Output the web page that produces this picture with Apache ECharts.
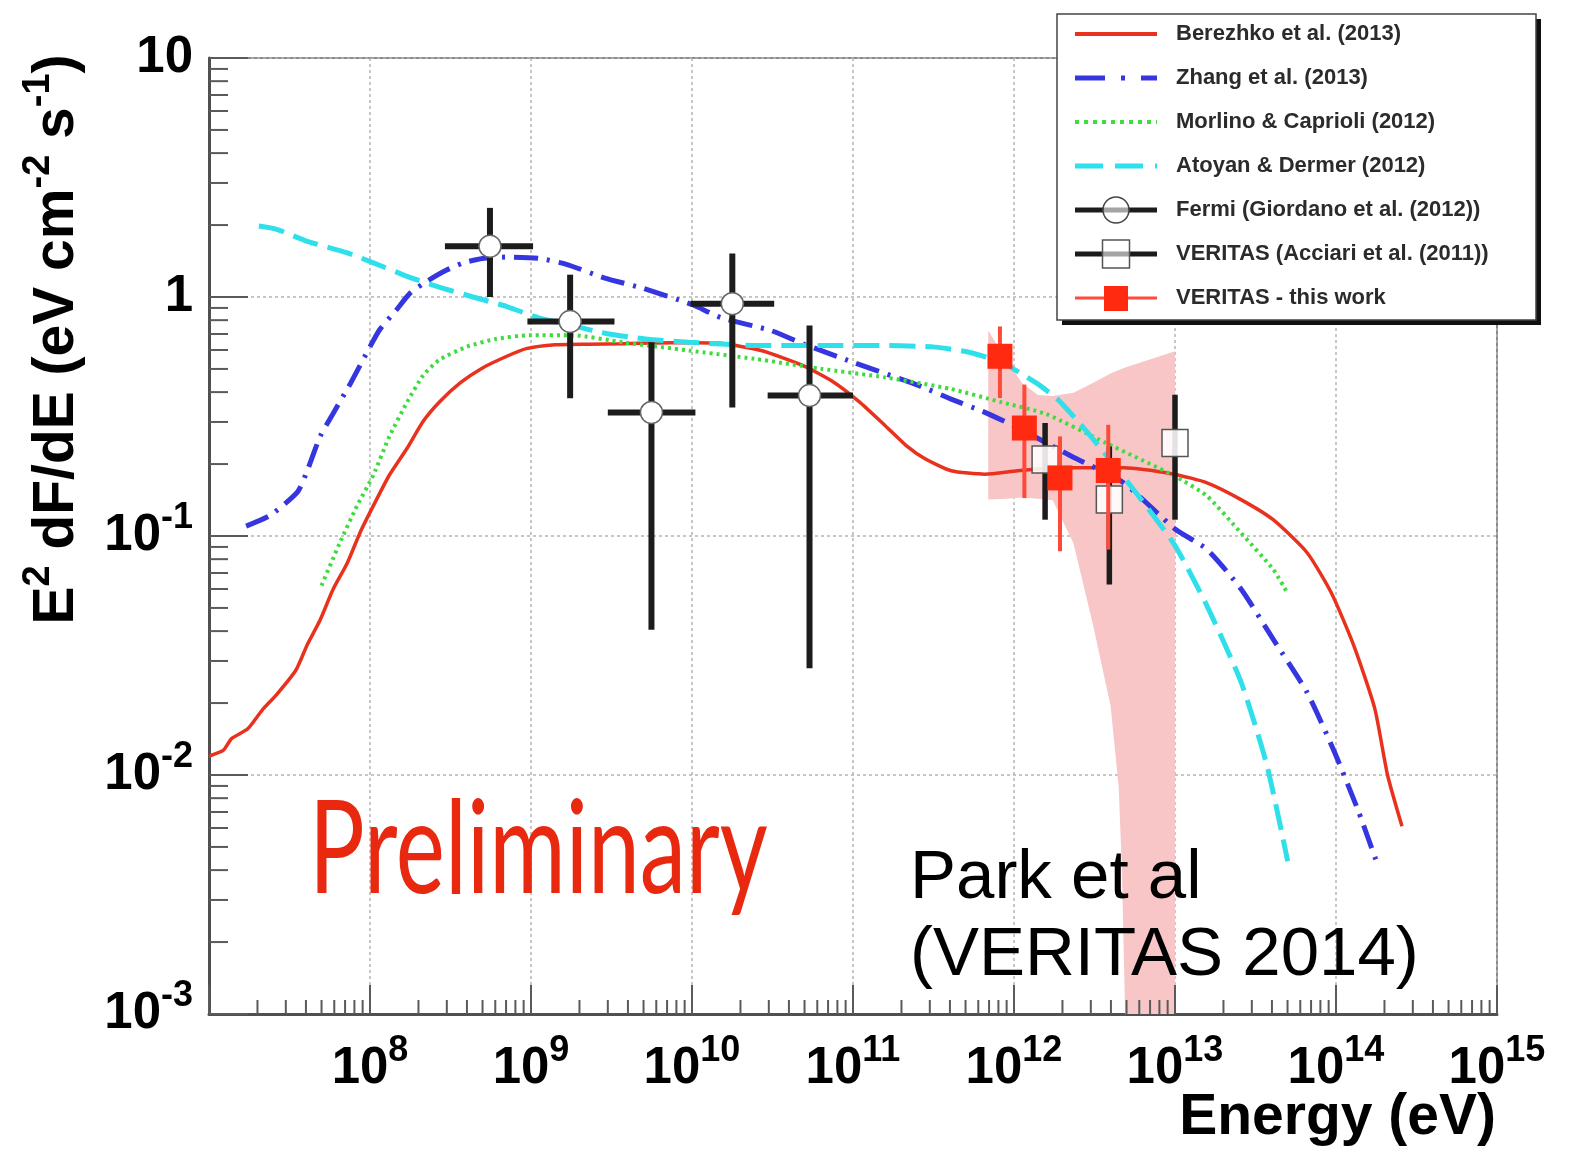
<!DOCTYPE html>
<html>
<head>
<meta charset="utf-8">
<title>Cas A gamma-ray SED</title>
<script src="https://cdn.jsdelivr.net/npm/echarts@6/dist/echarts.min.js"></script>
<style>
  html, body { margin: 0; padding: 0; background: #ffffff; }
  #chart { width: 1578px; height: 1149px; }
</style>
</head>
<body>
<div id="chart"></div>
<script>
// ---- Model curves: energy (eV) and E^2 dF/dE (eV cm^-2 s^-1) ----
const berezhkoE = [1.0e7, 1.23e7, 1.38e7, 1.74e7, 2.14e7, 2.63e7, 3.47e7, 4.07e7, 4.9e7, 5.89e7, 7.24e7, 8.71e7,
  1.05e8, 1.32e8, 1.70e8, 2.14e8, 2.69e8, 3.63e8, 5.0e8, 7.08e8, 9.33e8, 1.41e9, 2.29e9, 3.72e9, 5.89e9, 1.0e10,
  1.51e10, 2.69e10, 4.9e10, 7.59e10, 1.1e11, 1.58e11, 2.14e11, 2.82e11, 4.07e11, 6.6e11, 1.05e12, 1.7e12, 2.29e12,
  4.79e12, 1.0e13, 1.58e13, 2.57e13, 4.07e13, 6.6e13, 9.33e13, 1.29e14, 1.74e14, 2.09e14, 2.57e14];
const berezhkoF = [0.0120, 0.0127, 0.0142, 0.0156, 0.0187, 0.0217, 0.0275, 0.035, 0.0445, 0.0597, 0.0773, 0.104,
  0.134, 0.180, 0.233, 0.302, 0.363, 0.437, 0.505, 0.565, 0.608, 0.631, 0.635, 0.638, 0.642, 0.644,
  0.640, 0.597, 0.516, 0.44, 0.363, 0.29, 0.239, 0.21, 0.1875, 0.1815, 0.1875, 0.192, 0.193,
  0.193, 0.181, 0.167, 0.142, 0.117, 0.0853, 0.058, 0.0348, 0.019, 0.010, 0.0061];

const zhangE = [1.7e7, 2.4e7, 3.55e7, 4.07e7, 4.9e7, 5.89e7, 7.59e7, 1.0e8, 1.15e8, 1.45e8, 1.78e8, 2.24e8, 2.95e8,
  3.8e8, 5.0e8, 7.08e8, 1.12e9, 1.66e9, 2.88e9, 4.9e9, 1.0e10, 1.51e10, 3.09e10, 4.9e10, 1.0e11, 2.57e11, 4.07e11,
  6.6e11, 1.12e12, 2.29e12, 4.79e12, 1.0e13, 1.58e13, 2.57e13, 4.07e13, 6.6e13, 9.77e13, 1.38e14, 1.78e14];
const zhangF = [0.11, 0.122, 0.153, 0.187, 0.261, 0.325, 0.437, 0.619, 0.731, 0.879, 1.04, 1.16, 1.29,
  1.39, 1.45, 1.47, 1.45, 1.37, 1.2, 1.09, 0.93, 0.82, 0.724, 0.637, 0.533, 0.426, 0.374,
  0.329, 0.278, 0.215, 0.167, 0.107, 0.0879, 0.06, 0.037, 0.0222, 0.0125, 0.00703, 0.00436];

const morlinoE = [5.0e7, 6.46e7, 8.32e7, 1.05e8, 1.32e8, 1.7e8, 2.14e8, 2.69e8, 3.98e8, 6.03e8, 9.77e8, 1.82e9,
  3.72e9, 9.55e9, 2.45e10, 6.31e10, 1.58e11, 4.07e11, 8.32e11, 1.58e12, 3.72e12, 1.0e13, 1.58e13, 2.57e13,
  4.07e13, 4.9e13];
const morlinoF = [0.062, 0.0929, 0.134, 0.18, 0.261, 0.363, 0.47, 0.545, 0.619, 0.667, 0.692, 0.692,
  0.646, 0.597, 0.551, 0.501, 0.461, 0.412, 0.363, 0.324, 0.245, 0.178, 0.147, 0.103,
  0.0726, 0.059];

const atoyanE = [2.04e7, 2.63e7, 4.07e7, 7.24e7, 1.05e8, 1.7e8, 2.69e8, 4.37e8, 7.08e8, 1.12e9, 1.82e9, 2.88e9,
  5.13e9, 9.55e9, 2.45e10, 6.31e10, 1.58e11, 3.24e11, 5.25e11, 8.32e11, 1.35e12, 1.86e12, 2.57e12, 3.72e12,
  6.03e12, 1.0e13, 1.58e13, 2.57e13, 3.72e13, 5.01e13];
const atoyanF = [1.98, 1.92, 1.71, 1.53, 1.39, 1.22, 1.1, 1.0, 0.912, 0.817, 0.759, 0.705,
  0.667, 0.647, 0.627, 0.627, 0.627, 0.617, 0.587, 0.533, 0.44, 0.374, 0.295, 0.219,
  0.145, 0.0912, 0.051, 0.0245, 0.011, 0.00436];

// ---- Fermi-LAT points (Giordano et al. 2012) ----
const fermiE   = [5.56e8, 1.75e9, 5.6e9, 1.78e10, 5.37e10];
const fermiF   = [1.63, 0.79, 0.329, 0.938, 0.387];
const fermiElo = [2.92e8, 9.5e8, 3.0e9, 9.8e9, 2.95e10];
const fermiEhi = [1.03e9, 3.3e9, 1.05e10, 3.24e10, 1.0e11];
const fermiFlo = [1.0, 0.377, 0.0405, 0.345, 0.028];
const fermiFhi = [2.36, 1.24, 0.647, 1.52, 0.76];

// ---- VERITAS (Acciari et al. 2011) ----
const acciariE   = [1.56e12, 3.91e12, 1.0e13];
const acciariF   = [0.209, 0.142, 0.245];
const acciariFlo = [0.117, 0.0626, 0.117];
const acciariFhi = [0.297, 0.237, 0.39];

// ---- VERITAS, this work ----
const vtsE   = [8.18e11, 1.16e12, 1.93e12, 3.85e12];
const vtsF   = [0.565, 0.283, 0.175, 0.188];
const vtsFlo = [0.378, 0.144, 0.0863, 0.0877];
const vtsFhi = [0.753, 0.43, 0.261, 0.292];

// ---- VERITAS spectral-fit confidence band ----
const bandE  = [6.92e11, 8.91e11, 1.12e12, 1.41e12, 1.74e12, 2.34e12, 3.09e12, 3.98e12, 4.47e12, 4.68e12, 4.9e12, 1.0e13];
const bandHi = [0.724, 0.55, 0.437, 0.389, 0.385, 0.398, 0.437, 0.479, 0.495, 0.501, 0.507, 0.593];
const bandLo = [0.142, 0.143, 0.145, 0.143, 0.141, 0.0933, 0.0427, 0.0195, 0.0089, 0.004, 0.001, 0.001];

// ---- Axes ----
const xDecades = [7, 8, 9, 10, 11, 12, 13, 14, 15];   // exponents of 10, eV
const yDecades = [-3, -2, -1, 0, 1];                   // exponents of 10
const xLabelExps = [8, 9, 10, 11, 12, 13, 14, 15];     // labelled decades on the energy axis

const seriesNames = [
  'Berezhko et al. (2013)',
  'Zhang et al. (2013)',
  'Morlino & Caprioli (2012)',
  'Atoyan & Dermer (2012)',
  'Fermi (Giordano et al. (2012))',
  'VERITAS (Acciari et al. (2011))',
  'VERITAS - this work'
];

const C = {
  red: '#e8321e', blue: '#3636e0', green: '#3fdc3f', cyan: '#2fe0ea',
  black: '#1c1c1c', vts: '#ff2a10', vtsBar: '#ff4a3a', band: '#f8c6c6'
};

const pairs = (xs, ys) => xs.map((x, i) => [x, ys[i]]);

// log-decade tick marks (major at 10^n, minor at k*10^n)
const tickData = [];
xDecades.forEach((n, i) => {
  tickData.push([Math.pow(10, n), 1e-3, 0, 29]);
  if (i < xDecades.length - 1) for (let k = 2; k <= 9; k++) tickData.push([k * Math.pow(10, n), 1e-3, 0, 14]);
});
yDecades.forEach((n, i) => {
  tickData.push([1e7, Math.pow(10, n), 1, 39]);
  if (i < yDecades.length - 1) for (let k = 2; k <= 9; k++) tickData.push([1e7, k * Math.pow(10, n), 1, 19]);
});

const labelFont = 'Liberation Sans, Arial, Helvetica, sans-serif';
const tickRich = {
  b: { fontSize: 51, fontWeight: 'bold', fontFamily: labelFont, color: '#000', lineHeight: 72, verticalAlign: 'middle' },
  s: { fontSize: 36, fontWeight: 'bold', fontFamily: labelFont, color: '#000', lineHeight: 36, verticalAlign: 'top' }
};
const expOf = v => Math.round(Math.log10(v));

const chart = echarts.init(document.getElementById('chart'), null, { renderer: 'canvas' });

const lineSeries = (name, xs, ys, color, width, dash, z) => ({
  name, type: 'line', data: pairs(xs, ys), showSymbol: false, smooth: 0.2, z,
  lineStyle: { color, width, type: dash, cap: 'butt' }, silent: true
});

// legend sample glyphs
const legendX0 = 1075, legendX1 = 1157, legendMid = 1116, legendTextX = 1176;
const rowY = i => 34 + i * 44;
const legendEls = [
  { type: 'rect', shape: { x: 1062, y: 19, width: 479, height: 306 }, style: { fill: '#111' }, z: 100 },
  { type: 'rect', shape: { x: 1057, y: 14, width: 479, height: 306 }, style: { fill: '#fff', stroke: '#444', lineWidth: 1.5 }, z: 101 },
  { type: 'line', shape: { x1: legendX0, y1: rowY(0), x2: legendX1, y2: rowY(0) }, style: { stroke: C.red, lineWidth: 4 }, z: 102 },
  { type: 'line', shape: { x1: legendX0, y1: rowY(1), x2: legendX1, y2: rowY(1) }, style: { stroke: C.blue, lineWidth: 5, lineDash: [30, 16, 4, 16] }, z: 102 },
  { type: 'line', shape: { x1: legendX0, y1: rowY(2), x2: legendX1, y2: rowY(2) }, style: { stroke: C.green, lineWidth: 4, lineDash: [4, 5] }, z: 102 },
  { type: 'line', shape: { x1: legendX0, y1: rowY(3), x2: legendX1, y2: rowY(3) }, style: { stroke: C.cyan, lineWidth: 5, lineDash: [28, 12] }, z: 102 },
  { type: 'line', shape: { x1: legendX0, y1: rowY(4), x2: legendX1, y2: rowY(4) }, style: { stroke: C.black, lineWidth: 5 }, z: 102 },
  { type: 'circle', shape: { cx: legendMid, cy: rowY(4), r: 13 }, style: { fill: 'rgba(255,255,255,0.6)', stroke: '#444', lineWidth: 1.5 }, z: 103 },
  { type: 'line', shape: { x1: legendX0, y1: rowY(5), x2: legendX1, y2: rowY(5) }, style: { stroke: C.black, lineWidth: 5 }, z: 102 },
  { type: 'rect', shape: { x: legendMid - 13.5, y: rowY(5) - 14, width: 27, height: 28 }, style: { fill: 'rgba(255,255,255,0.6)', stroke: '#555', lineWidth: 1.5 }, z: 103 },
  { type: 'line', shape: { x1: legendX0, y1: rowY(6), x2: legendX1, y2: rowY(6) }, style: { stroke: C.vtsBar, lineWidth: 3 }, z: 102 },
  { type: 'rect', shape: { x: legendMid - 12, y: rowY(6) - 12, width: 24, height: 25 }, style: { fill: C.vts }, z: 103 }
];
seriesNames.forEach((name, i) => {
  legendEls.push({
    type: 'text', x: legendTextX, y: rowY(i), z: 104,
    style: { text: name, fontSize: 22, fontWeight: 'bold', fontFamily: labelFont, fill: '#2b2b2b', align: 'left', verticalAlign: 'middle' }
  });
});

const option = {
  animation: false,
  backgroundColor: '#ffffff',
  grid: { left: 209, top: 58, width: 1288, height: 956, show: true, borderColor: '#8a8a8a', borderWidth: 2, backgroundColor: 'transparent' },
  xAxis: {
    type: 'log', logBase: 10, min: 1e7, max: 1e15, interval: 1, splitNumber: 8,
    axisLine: { show: true, lineStyle: { color: '#505050', width: 3 } },
    axisTick: { show: false },
    splitLine: { show: true, lineStyle: { color: '#b4b4b4', width: 1.5, type: [3, 3] } },
    axisLabel: {
      margin: 19, rich: tickRich,
      formatter: v => { const e = expOf(v); return xLabelExps.includes(e) ? '{b|10}{s|' + e + '}' : ''; }
    }
  },
  yAxis: {
    type: 'log', logBase: 10, min: 1e-3, max: 10, interval: 1, splitNumber: 4,
    axisLine: { show: true, lineStyle: { color: '#505050', width: 3 } },
    axisTick: { show: false },
    splitLine: { show: true, lineStyle: { color: '#b4b4b4', width: 1.5, type: [3, 3] } },
    axisLabel: {
      margin: 16, rich: tickRich,
      formatter: v => { const e = expOf(v); if (e === 1) return '{b|10}'; if (e === 0) return '{b|1}'; return '{b|10}{s|' + e + '}'; }
    }
  },
  graphic: {
    elements: [
      {
        type: 'text', x: 57.5, y: 339.5, rotation: Math.PI / 2,
        style: {
          text: '{b|E}{s|2}{b| dF/dE (eV cm}{s|-2}{b| s}{s|-1}{b|)}', align: 'center', verticalAlign: 'middle',
          rich: {
            b: { fontSize: 57, fontWeight: 'bold', fontFamily: labelFont, fill: '#000', lineHeight: 76, verticalAlign: 'middle' },
            s: { fontSize: 38, fontWeight: 'bold', fontFamily: labelFont, fill: '#000', lineHeight: 38, verticalAlign: 'top' }
          }
        }
      },
      {
        type: 'text', x: 1496, y: 1118,
        style: { text: 'Energy (eV)', fontSize: 57, fontWeight: 'bold', fontFamily: labelFont, fill: '#000', align: 'right', verticalAlign: 'middle' }
      },
      {
        type: 'text', x: 309, y: 851, scaleX: 0.715, z: 50,
        style: { text: 'Preliminary', fontSize: 130, fontFamily: 'Lato, sans-serif', fill: '#e8280f', align: 'left', verticalAlign: 'middle' }
      },
      {
        type: 'text', x: 910, y: 879, z: 50,
        style: { text: 'Park et al', fontSize: 69, fontFamily: labelFont, fill: '#000', align: 'left', verticalAlign: 'middle' }
      },
      {
        type: 'text', x: 910, y: 956, z: 50,
        style: { text: '(VERITAS 2014)', fontSize: 69, fontFamily: labelFont, fill: '#000', align: 'left', verticalAlign: 'middle' }
      }
    ].concat(legendEls)
  },
  series: [
    {
      name: 'VERITAS band', type: 'custom', silent: true, z: 1,
      data: bandE.map((e, i) => [e, bandHi[i], bandLo[i]]),
      encode: { x: 0, y: 1 },
      renderItem: (params, api) => {
        if (params.dataIndex !== 0) return null;
        const cs = params.coordSys;
        const pts = [];
        for (let i = 0; i < bandE.length; i++) pts.push(api.coord([bandE[i], bandHi[i]]));
        for (let i = bandE.length - 1; i >= 0; i--) pts.push(api.coord([bandE[i], bandLo[i]]));
        return {
          type: 'polygon', shape: { points: pts }, style: { fill: C.band },
          clipPath: { type: 'rect', shape: { x: cs.x, y: cs.y, width: cs.width, height: cs.height } }
        };
      }
    },
    lineSeries(seriesNames[0], berezhkoE, berezhkoF, C.red, 3.5, 'solid', 3),
    lineSeries(seriesNames[1], zhangE, zhangF, C.blue, 5, [24, 9, 3, 9], 3),
    lineSeries(seriesNames[2], morlinoE, morlinoF, C.green, 4, [3, 4], 3),
    lineSeries(seriesNames[3], atoyanE, atoyanF, C.cyan, 5, [26, 10], 3),
    {
      name: seriesNames[4], type: 'custom', silent: true, z: 4,
      data: fermiE.map((e, i) => [e, fermiF[i], fermiElo[i], fermiEhi[i], fermiFlo[i], fermiFhi[i]]),
      encode: { x: 0, y: 1 },
      renderItem: (params, api) => {
        const x = api.value(0), y = api.value(1);
        const c = api.coord([x, y]);
        const l = api.coord([api.value(2), y]), r = api.coord([api.value(3), y]);
        const lo = api.coord([x, api.value(4)]), hi = api.coord([x, api.value(5)]);
        return {
          type: 'group', children: [
            { type: 'line', shape: { x1: l[0], y1: c[1], x2: r[0], y2: c[1] }, style: { stroke: C.black, lineWidth: 6 } },
            { type: 'line', shape: { x1: c[0], y1: hi[1], x2: c[0], y2: lo[1] }, style: { stroke: C.black, lineWidth: 6 } },
            { type: 'circle', shape: { cx: c[0], cy: c[1], r: 11 }, style: { fill: '#fff', stroke: '#666', lineWidth: 1.5 } }
          ]
        };
      }
    },
    {
      name: seriesNames[5], type: 'custom', silent: true, z: 5,
      data: acciariE.map((e, i) => [e, acciariF[i], acciariFlo[i], acciariFhi[i]]),
      encode: { x: 0, y: 1 },
      renderItem: (params, api) => {
        const x = api.value(0), y = api.value(1);
        const c = api.coord([x, y]);
        const lo = api.coord([x, api.value(2)]), hi = api.coord([x, api.value(3)]);
        return {
          type: 'group', children: [
            { type: 'line', shape: { x1: c[0], y1: hi[1], x2: c[0], y2: lo[1] }, style: { stroke: C.black, lineWidth: 5.5 } },
            { type: 'rect', shape: { x: c[0] - 13, y: c[1] - 13.5, width: 26, height: 27 }, style: { fill: 'rgba(255,255,255,0.88)', stroke: '#555', lineWidth: 1.5 } }
          ]
        };
      }
    },
    {
      name: seriesNames[6], type: 'custom', silent: true, z: 6,
      data: vtsE.map((e, i) => [e, vtsF[i], vtsFlo[i], vtsFhi[i]]),
      encode: { x: 0, y: 1 },
      renderItem: (params, api) => {
        const x = api.value(0), y = api.value(1);
        const c = api.coord([x, y]);
        const lo = api.coord([x, api.value(2)]), hi = api.coord([x, api.value(3)]);
        return {
          type: 'group', children: [
            { type: 'line', shape: { x1: c[0], y1: hi[1], x2: c[0], y2: lo[1] }, style: { stroke: C.vtsBar, lineWidth: 4 } },
            { type: 'rect', shape: { x: c[0] - 12.5, y: c[1] - 12.5, width: 25, height: 25 }, style: { fill: C.vts } }
          ]
        };
      }
    },
    {
      name: 'ticks', type: 'custom', silent: true, z: 7, clip: false,
      data: tickData, encode: { x: 0, y: 1 },
      renderItem: (params, api) => {
        const p = api.coord([api.value(0), api.value(1)]);
        const len = api.value(3);
        const vertical = api.value(2) === 0;
        return {
          type: 'line',
          shape: vertical ? { x1: p[0], y1: p[1], x2: p[0], y2: p[1] - len } : { x1: p[0], y1: p[1], x2: p[0] + len, y2: p[1] },
          style: { stroke: '#5a5a5a', lineWidth: 2 }
        };
      }
    }
  ]
};

chart.setOption(option);
</script>
</body>
</html>
